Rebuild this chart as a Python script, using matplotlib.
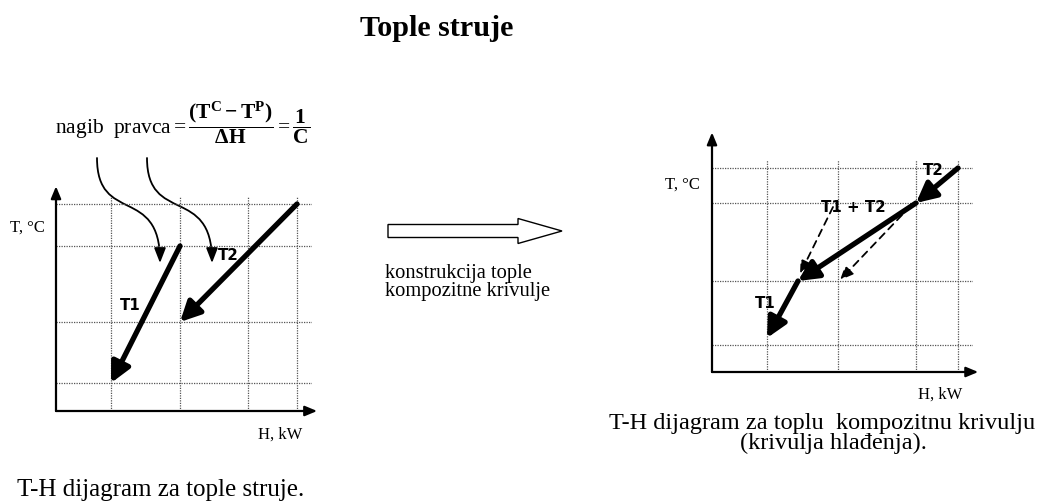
import matplotlib
matplotlib.use("Agg")
import matplotlib.pyplot as plt
from matplotlib.patches import FancyArrowPatch, FancyArrow
from matplotlib.path import Path

plt.rcParams['font.family'] = 'Liberation Serif'
plt.rcParams['mathtext.fontset'] = 'custom'
plt.rcParams['mathtext.rm'] = 'Liberation Serif'
plt.rcParams['mathtext.bf'] = 'Liberation Serif:bold'
plt.rcParams['mathtext.it'] = 'Liberation Serif:italic'

# grid positions (H, T) for both diagrams
H_grid_lijevo = [55, 124, 192, 241]
T_grid_lijevo = [28, 89, 165, 207]
H_grid_desno = [55, 126, 204, 246]
T_grid_desno = [27, 91, 169, 204]

# tople struje: (H_pocetak, T_pocetak) -> (H_kraj, T_kraj)
T1 = [(124, 165), (55, 28)]
T2 = [(241, 207), (124, 89)]

# kompozitna krivulja
T2_komp = [(246, 204), (204, 169)]
T12_komp = [(204, 169), (86, 91)]
T1_komp = [(86, 91), (55, 34)]
T1_crtkano = [(121, 165), (88, 98)]
T2_crtkano = [(190, 157), (128, 92)]

# zakrivljene strelice iznad lijevog dijagrama
krivulja1 = [(41, 253), (41, 186), (104, 226), (104, 148)]
krivulja2 = [(91, 253), (91, 186), (156, 226), (156, 148)]

W, H = 1038, 503
fig = plt.figure(figsize=(W / 100, H / 100), dpi=100)

canvas = fig.add_axes([0, 0, 1, 1])
canvas.set_xlim(0, W)
canvas.set_ylim(H, 0)
canvas.axis('off')


def dijagram(left, bottom, width, height, hgrid, tgrid, ytop):
    ax = fig.add_axes([left / W, (H - bottom) / H, width / W, height / H])
    ax.set_xlim(0, width)
    ax.set_ylim(0, height)
    ax.set_xticks(hgrid)
    ax.set_yticks(tgrid)
    ax.tick_params(length=0, labelbottom=False, labelleft=False)
    ax.grid(True, color='#555555', linestyle=(0, (1, 1)), linewidth=0.9)
    for s in ax.spines.values():
        s.set_visible(False)
    ax.annotate('', xy=(0, ytop), xytext=(0, 0), xycoords='axes fraction',
                arrowprops=dict(arrowstyle='-|>,head_length=0.6,head_width=0.25',
                                lw=1.6, color='black', shrinkA=0, shrinkB=0,
                                mutation_scale=12))
    ax.annotate('', xy=(1.02, 0), xytext=(0, 0), xycoords='axes fraction',
                arrowprops=dict(arrowstyle='-|>,head_length=0.6,head_width=0.25',
                                lw=1.6, color='black', shrinkA=0, shrinkB=0,
                                mutation_scale=12))
    return ax


def debela(ax, seg):
    ax.annotate('', xy=seg[1], xytext=seg[0], annotation_clip=False,
                arrowprops=dict(arrowstyle='-|>,head_length=1.0,head_width=0.5',
                                lw=3.8, color='black', shrinkA=0, shrinkB=0,
                                mutation_scale=12))


def crtkana(ax, seg):
    ax.annotate('', xy=seg[1], xytext=seg[0], annotation_clip=False,
                arrowprops=dict(arrowstyle='-|>,head_length=0.8,head_width=0.35',
                                lw=1.3, ls=(0, (4, 3)), color='black',
                                shrinkA=0, shrinkB=0, mutation_scale=10))


oznaka = dict(fontsize=10.8, fontweight='bold', family='DejaVu Sans',
              ha='center', va='center')

ax1 = dijagram(56, 411, 256, 214, H_grid_lijevo, T_grid_lijevo, 1.05)
debela(ax1, T1)
debela(ax1, T2)
ax1.text(74, 105, 'T1', **oznaka)
ax1.text(172, 155, 'T2', **oznaka)

for k in (krivulja1, krivulja2):
    p = Path(k, [Path.MOVETO, Path.CURVE4, Path.CURVE4, Path.CURVE4])
    a = FancyArrowPatch(path=p, arrowstyle='-|>,head_length=0.9,head_width=0.35',
                        lw=1.3, color='black', mutation_scale=10,
                        transform=ax1.transData, clip_on=False)
    ax1.add_patch(a)

ax2 = dijagram(712, 372, 261, 212, H_grid_desno, T_grid_desno, 1.13)
debela(ax2, T2_komp)
debela(ax2, T12_komp)
debela(ax2, T1_komp)
crtkana(ax2, T1_crtkano)
crtkana(ax2, T2_crtkano)
ax2.text(221, 202, 'T2', **oznaka)
ax2.text(141, 165, 'T1 + T2', **oznaka)
ax2.text(53, 69, 'T1', **oznaka)

# naslov i tekstovi
canvas.text(437, 28, 'Tople struje', fontsize=21.7, fontweight='bold',
            ha='center', va='center')
canvas.text(55, 123,
            r'$\mathrm{nagib\ \ pravca} = \dfrac{\mathbf{(T^{C} - T^{P})}}{\mathbf{\Delta H}}'
            r' = \dfrac{\mathbf{1}}{\mathbf{C}}$',
            fontsize=15.5, ha='left', va='center')
canvas.text(10, 228, 'T, °C', fontsize=12, ha='left', va='center')
canvas.text(258, 435, 'H, kW', fontsize=12, ha='left', va='center')
canvas.text(161, 490, 'T-H dijagram za tople struje.', fontsize=18,
            ha='center', va='center')

canvas.add_patch(FancyArrow(388, 231, 174, 0, width=13, head_width=25,
                            head_length=44, length_includes_head=True,
                            facecolor='white', edgecolor='black', lw=1.0))
canvas.text(385, 278, 'konstrukcija tople', fontsize=14.8, ha='left', va='baseline')
canvas.text(385, 296, 'kompozitne krivulje', fontsize=14.8, ha='left', va='baseline')

canvas.text(665, 185, 'T, °C', fontsize=12, ha='left', va='center')
canvas.text(918, 395, 'H, kW', fontsize=12, ha='left', va='center')
canvas.text(822, 424, 'T-H dijagram za toplu  kompozitnu krivulju', fontsize=17.5,
            ha='center', va='center')
canvas.text(833, 443, '(krivulja hlađenja).', fontsize=17.5,
            ha='center', va='center')

fig.savefig('out.png', dpi=100)
